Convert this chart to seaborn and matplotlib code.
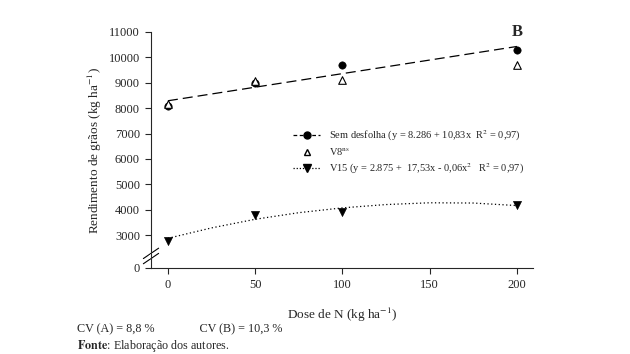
import numpy as np
import matplotlib
matplotlib.use("Agg")
import matplotlib.pyplot as plt
from matplotlib.lines import Line2D
import seaborn as sns

# dose de N (kg/ha)
doses = [0, 50, 100, 200]
sem_desfolha = [8100, 9000, 9680, 10290]
v8 = [8170, 9060, 9110, 9710]
v15 = [2780, 3790, 3900, 4170]

# trend lines
fit_x = [0, 200]
fit_sem = [8290, 10430]
curve_x = [0, 25, 50, 75, 100, 125, 150, 175, 200]
curve_v15 = [2870, 3280, 3620, 3880, 4070, 4200, 4270, 4260, 4160]

xticks = [0, 50, 100, 150, 200]
yticks = [0, 3000, 4000, 5000, 6000, 7000, 8000, 9000, 10000, 11000]

sns.set_style("ticks")
plt.rcParams['font.family'] = ['Liberation Serif', 'DejaVu Serif']
plt.rcParams['mathtext.fontset'] = 'stix'

fig = plt.figure(figsize=(6.3, 3.54), dpi=100)
ax = fig.add_axes([151/630, 1-268/354, (533-151)/630, (268-32)/354])


# broken y axis: 0..2000 squeezed
def fwd(y):
    y = np.asarray(y, dtype=float)
    return np.where(y < 2000, 1700 + y * 300 / 2000, y)


def inv(v):
    v = np.asarray(v, dtype=float)
    return np.where(v < 2000, (v - 1700) * 2000 / 300, v)


ax.set_yscale('function', functions=(fwd, inv))

sns.lineplot(x=fit_x, y=fit_sem, ax=ax, color='black', lw=0.9,
             linestyle=(0, (8, 4)))
sns.lineplot(x=curve_x, y=curve_v15, ax=ax, color='black', lw=0.9,
             linestyle=(0, (1, 2)))
sns.scatterplot(x=doses, y=sem_desfolha, ax=ax, color='black', marker='o', s=28,
                edgecolor='black', zorder=3)
sns.scatterplot(x=doses, y=v8, ax=ax, marker='^', s=30, facecolor='white',
                edgecolor='black', linewidth=0.8, zorder=4)
sns.scatterplot(x=doses, y=v15, ax=ax, color='black', marker='v', s=34,
                edgecolor='black', zorder=3)

ax.set_xlim(-9.7, 209.2)
ax.set_ylim(0, 11000)
ax.set_xticks(xticks)
ax.set_yticks(yticks)
ax.tick_params(labelsize=9, length=4, width=0.8, direction='out', pad=4)
sns.despine(ax=ax)
for s in ['left', 'bottom']:
    ax.spines[s].set_linewidth(0.8)

# axis break marks
kw = dict(transform=ax.transAxes, color='black', lw=0.8, clip_on=False)
ax.plot([-0.02, 0.02], [0.018, 0.062], **kw)
ax.plot([-0.02, 0.02], [0.04, 0.084], **kw)
ax.plot([-0.005, 0.005], [0.045, 0.058], transform=ax.transAxes, color='white',
        lw=2, clip_on=False)

ax.set_xlabel('Dose de N (kg ha$^{-1}$)', fontsize=9.5, labelpad=11)
ax.set_ylabel('Rendimento de grãos (kg ha$^{-1}$)', fontsize=9.5, labelpad=3)

ax.text(200, 11000, 'B', fontsize=12, fontweight='bold', ha='center', va='center')

handles = [
    Line2D([], [], color='black', lw=0.9, linestyle=(0, (3, 2)), marker='o', ms=5),
    Line2D([], [], color='black', lw=0, marker='^', ms=5, mfc='white'),
    Line2D([], [], color='black', lw=0.9, linestyle=(0, (1, 1.5)), marker='v', ms=6),
]
labels = [
    'Sem desfolha (y = 8.286 + 10,83x  R$^2$ = 0,97)',
    'V8$^{\\mathrm{ns}}$',
    'V15 (y = 2.875 +  17,53x - 0,06x$^2$   R$^2$ = 0,97)',
]
ax.legend(handles, labels, loc='upper left', bbox_to_anchor=(288/630, 1-123/354),
          bbox_transform=fig.transFigure, frameon=False, fontsize=7.5,
          handlelength=2.6, handletextpad=0.8, labelspacing=0.35, borderpad=0)

fig.text(77/630, 1-329/354, 'CV (A) = 8,8 %               CV (B) = 10,3 %',
         fontsize=8.7, va='center')
fig.text(77/630, 1-346/354, r'$\bf{Fonte}$: Elaboração dos autores.',
         fontsize=8.7, va='center')

fig.savefig('out.png', dpi=100)
